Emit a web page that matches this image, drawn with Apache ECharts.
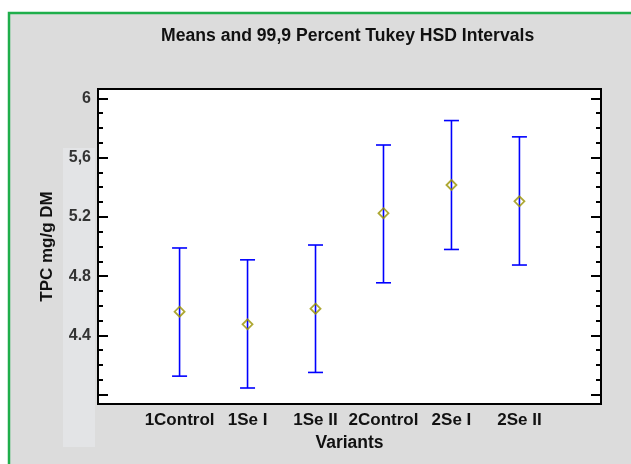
<!DOCTYPE html>
<html>
<head>
<meta charset="utf-8">
<title>Means and 99,9 Percent Tukey HSD Intervals</title>
<script src="https://cdn.jsdelivr.net/npm/echarts@6/dist/echarts.min.js"></script>
</head>
<body style="margin:0">
<div id="chart" style="width:631px;height:464px;"></div>
<script>
// data
var variants = ['1Control', '1Se I', '1Se II', '2Control', '2Se I', '2Se II'];
var positions = [1, 2, 3, 4, 5, 6];
var means = [4.56, 4.475, 4.58, 5.225, 5.415, 5.305];
var lower = [4.125, 4.045, 4.15, 4.755, 4.98, 4.875];
var upper = [4.99, 4.91, 5.01, 5.685, 5.85, 5.74];

// y axis ticks and labels (source mixes "," and ".")
var yMajorTicks = [4.0, 4.4, 4.8, 5.2, 5.6, 6.0];
var yMinorTicks = [4.1, 4.2, 4.3, 4.5, 4.6, 4.7, 4.9, 5.0, 5.1, 5.3, 5.4, 5.5, 5.7, 5.8, 5.9];
var yLabelValues = [4.4, 4.8, 5.2, 5.6, 6.0];
var yLabels = ['4.4', '4.8', '5.2', '5,6', '6'];

var FONT = 'Liberation Sans';
var Y_MIN = 3.937, Y_MAX = 6.063;

var barData = positions.map(function (p, i) { return [p, lower[i], upper[i]]; });
var meanData = positions.map(function (p, i) { return [p, means[i]]; });

function yLabel(v) {
    for (var i = 0; i < yLabelValues.length; i++) {
        if (Math.abs(yLabelValues[i] - v) < 1e-6) return yLabels[i];
    }
    return '';
}

function tickAxis(pos, ticks, len, withLabels) {
    var ax = {
        type: 'value', position: pos, min: Y_MIN, max: Y_MAX,
        axisLine: { show: false, onZero: false },
        splitLine: { show: false },
        axisTick: { show: true, inside: true, length: len, customValues: ticks,
                    lineStyle: { color: '#000', width: 2 } },
        axisLabel: { show: false }
    };
    if (withLabels) {
        ax.axisLabel = {
            show: true, customValues: yLabelValues, formatter: yLabel,
            fontFamily: FONT, fontWeight: 'bold', fontSize: 16, color: '#333', margin: 7
        };
        ax.name = 'TPC mg/g DM';
        ax.nameLocation = 'middle';
        ax.nameGap = 42;
        ax.nameTextStyle = { fontFamily: FONT, fontWeight: 'bold', fontSize: 17, color: '#111' };
    }
    return ax;
}

var chart = echarts.init(document.getElementById('chart'));
chart.setOption({
    backgroundColor: '#fff',
    animation: false,
    graphic: [
        { type: 'rect', z: -10, shape: { x: 9, y: 13, width: 640, height: 470 },
          style: { fill: '#dcdcdc', stroke: '#1fae4b', lineWidth: 2.5 } },
        { type: 'rect', z: -9, shape: { x: 63, y: 148, width: 32, height: 299 },
          style: { fill: '#e3e4e6' } }
    ],
    title: {
        text: 'Means and 99,9 Percent Tukey HSD Intervals',
        left: 161, top: 27, padding: 0,
        textStyle: { fontFamily: FONT, fontWeight: 'bold', fontSize: 17.6, color: '#111' }
    },
    grid: {
        left: 98, right: 30, top: 89, bottom: 60,
        show: true, backgroundColor: '#fff', borderColor: '#000', borderWidth: 2
    },
    xAxis: {
        type: 'value', min: -0.2, max: 7.2,
        axisLine: { show: false, onZero: false }, axisTick: { show: false }, splitLine: { show: false },
        axisLabel: {
            customValues: positions,
            formatter: function (v) { return variants[Math.round(v) - 1]; },
            fontFamily: FONT, fontWeight: 'bold', fontSize: 17, color: '#111', margin: 8
        },
        name: 'Variants', nameLocation: 'middle', nameGap: 30,
        nameTextStyle: { fontFamily: FONT, fontWeight: 'bold', fontSize: 17.5, color: '#111' }
    },
    yAxis: [
        tickAxis('left', yMajorTicks, 10, true),
        tickAxis('left', yMinorTicks, 5, false),
        tickAxis('right', yMajorTicks, 10, false),
        tickAxis('right', yMinorTicks, 5, false)
    ],
    series: [
        {
            type: 'custom',
            data: barData,
            renderItem: function (params, api) {
                var top = api.coord([api.value(0), api.value(2)]);
                var bot = api.coord([api.value(0), api.value(1)]);
                var hw = 7.5;
                var st = { stroke: '#0000ff', lineWidth: 1.6 };
                return {
                    type: 'group',
                    children: [
                        { type: 'line', shape: { x1: top[0], y1: top[1], x2: bot[0], y2: bot[1] }, style: st },
                        { type: 'line', shape: { x1: top[0] - hw, y1: top[1], x2: top[0] + hw, y2: top[1] }, style: st },
                        { type: 'line', shape: { x1: bot[0] - hw, y1: bot[1], x2: bot[0] + hw, y2: bot[1] }, style: st }
                    ]
                };
            }
        },
        {
            type: 'scatter',
            data: meanData,
            symbol: 'diamond',
            symbolSize: [10, 10],
            itemStyle: { color: 'transparent', borderColor: '#9a9200', borderWidth: 1.8 },
            z: 5
        }
    ]
});
</script>
</body>
</html>
